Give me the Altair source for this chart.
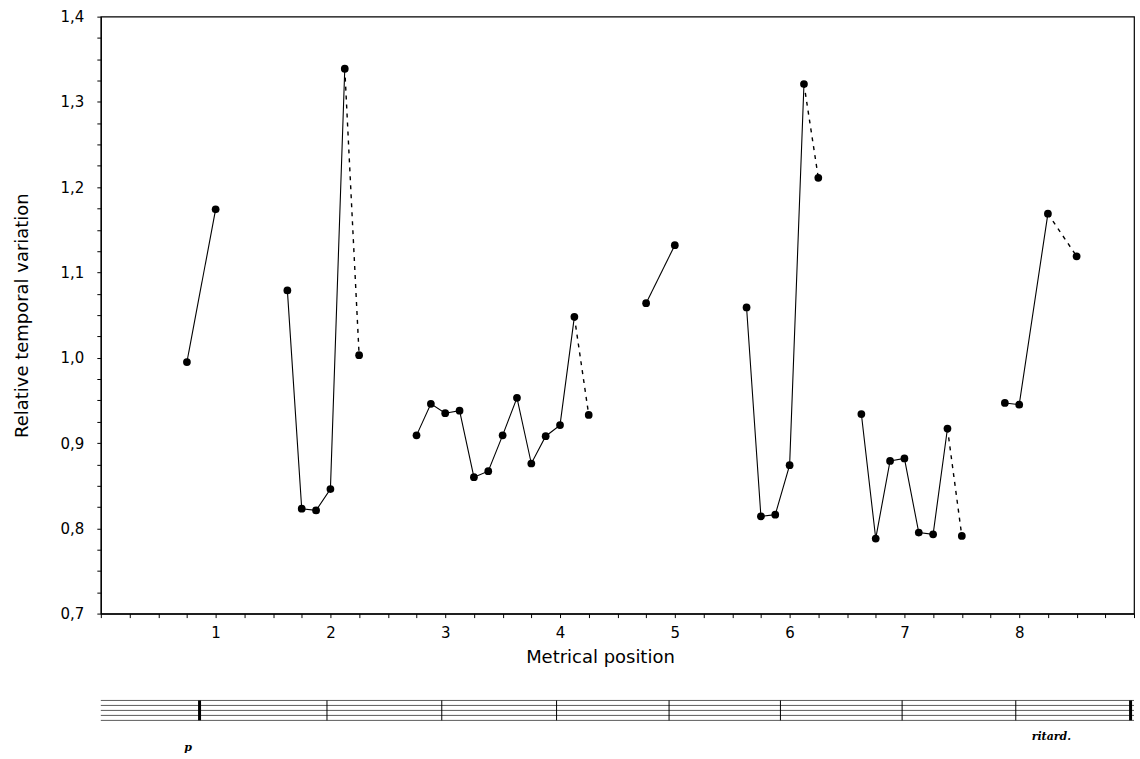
import altair as alt
import pandas as pd

# ---------------- data ----------------
phrase_positions = [
    [0.75, 1.0],
    [1.625, 1.75, 1.875, 2.0, 2.125, 2.25],
    [2.75, 2.875, 3.0, 3.125, 3.25, 3.375, 3.5, 3.625, 3.75, 3.875, 4.0, 4.125, 4.25],
    [4.75, 5.0],
    [5.625, 5.75, 5.875, 6.0, 6.125, 6.25],
    [6.625, 6.75, 6.875, 7.0, 7.125, 7.25, 7.375, 7.5],
    [7.875, 8.0, 8.25, 8.5],
]
phrase_values = [
    [0.995, 1.174],
    [1.079, 0.823, 0.821, 0.846, 1.339, 1.003],
    [0.909, 0.946, 0.935, 0.938, 0.860, 0.867, 0.909, 0.953, 0.876, 0.908, 0.921, 1.048, 0.933],
    [1.064, 1.132],
    [1.059, 0.814, 0.816, 0.874, 1.321, 1.211],
    [0.934, 0.788, 0.879, 0.882, 0.795, 0.793, 0.917, 0.791],
    [0.947, 0.945, 1.169, 1.119],
]
# last step of the phrase drawn dashed
dashed_end = [False, True, True, False, True, True, True]

x_tick_values = [i * 0.25 for i in range(0, 37)]
y_tick_values = [round(0.7 + i * 0.025, 3) for i in range(0, 29)]

# score strip below the chart
staff_lines = [1, 2, 3, 4, 5]
bar_positions = [0.86, 1.97, 2.97, 3.97, 4.95, 5.92, 6.98, 7.97, 8.97]
bar_weights = [3, 1, 1, 1, 1, 1, 1, 1, 3]
score_texts = ["p", "ritard."]
score_text_x = [0.76, 8.28]
score_text_y = [-4.6, -2.3]

# ---------------- tables ----------------
pts, segs = [], []
for i, (xs, ys) in enumerate(zip(phrase_positions, phrase_values)):
    for xv, yv in zip(xs, ys):
        pts.append({"x": xv, "y": yv, "phrase": i})
    solid_n = len(xs) - 1 if dashed_end[i] else len(xs)
    for xv, yv in zip(xs[:solid_n], ys[:solid_n]):
        segs.append({"x": xv, "y": yv, "seg": f"s{i}", "kind": "solid"})
    if dashed_end[i]:
        for xv, yv in zip(xs[-2:], ys[-2:]):
            segs.append({"x": xv, "y": yv, "seg": f"d{i}", "kind": "dashed"})
pts_df = pd.DataFrame(pts)
seg_df = pd.DataFrame(segs)

x_scale = alt.Scale(domain=[0, 9], nice=False, zero=False)
y_scale = alt.Scale(domain=[0.7, 1.4], nice=False, zero=False)

x_axis = alt.Axis(
    title="Metrical position", values=x_tick_values,
    labelExpr="(datum.value >= 1 && datum.value <= 8 && datum.value == round(datum.value)) ? format(datum.value, 'd') : ''",
    labelOverlap=False, labelFlush=False, grid=False, tickSize=4, labelPadding=8,
    labelFontSize=15, titleFontSize=18, titlePadding=8, titleX=500, titleAlign="center",
)
y_axis = alt.Axis(
    title="Relative temporal variation", values=y_tick_values,
    labelExpr="abs(datum.value * 10 - round(datum.value * 10)) < 0.001 ? replace(format(datum.value, '.1f'), '.', ',') : ''",
    labelOverlap=False, grid=False, tickSize=4, labelPadding=13,
    labelFontSize=15, titleFontSize=18, titlePadding=29,
)

xe = alt.X("x:Q", scale=x_scale, axis=x_axis)
ye = alt.Y("y:Q", scale=y_scale, axis=y_axis)

solid = alt.Chart(seg_df).transform_filter("datum.kind == 'solid'").mark_line(
    color="black", strokeWidth=1.1).encode(x=xe, y=ye, detail="seg:N")
dashed = alt.Chart(seg_df).transform_filter("datum.kind == 'dashed'").mark_line(
    color="black", strokeWidth=1.4, strokeDash=[4, 5]).encode(x=xe, y=ye, detail="seg:N")
points = alt.Chart(pts_df).mark_circle(color="black", opacity=1, size=60).encode(x=xe, y=ye)

main = alt.layer(solid, dashed, points).properties(width=1035, height=598)

# ---------------- score strip ----------------
staff_df = pd.DataFrame({"line": staff_lines, "start": [0] * 5, "end": [9] * 5})
bar_df = pd.DataFrame({"pos": bar_positions, "w": bar_weights, "lo": [1] * len(bar_positions), "hi": [5] * len(bar_positions)})
text_df = pd.DataFrame({"t": score_texts, "x": score_text_x, "y": score_text_y})

sx = alt.Scale(domain=[0, 9], nice=False, zero=False)
sy = alt.Scale(domain=[1, 5], nice=False, zero=False)

staff = alt.Chart(staff_df).mark_rule(color="#333333", strokeWidth=0.8).encode(
    x=alt.X("start:Q", scale=sx, axis=None), x2="end:Q",
    y=alt.Y("line:Q", scale=sy, axis=None))
bars = alt.Chart(bar_df).mark_rule(color="black").encode(
    x=alt.X("pos:Q", scale=sx, axis=None),
    y=alt.Y("lo:Q", scale=sy, axis=None), y2="hi:Q",
    strokeWidth=alt.StrokeWidth("w:Q", scale=None, legend=None))
texts = alt.Chart(text_df).mark_text(
    font="DejaVu Serif", fontStyle="italic", fontWeight="bold", fontSize=11, color="black").encode(
    x=alt.X("x:Q", scale=sx, axis=None), y=alt.Y("y:Q", scale=sy, axis=None), text="t:N")

score = alt.layer(staff, bars, texts).properties(
    width=1035, height=20, view=alt.ViewBackground(stroke="transparent"))

chart = alt.vconcat(main, score, spacing=87, bounds="flush").properties(
    padding={"left": 12, "top": 8, "right": 4, "bottom": 5}
).configure(font="DejaVu Sans").configure_view(
    stroke="black", strokeWidth=1.2
).configure_axis(
    domainColor="black", tickColor="black", labelColor="black", titleColor="black",
    titleFontWeight="normal", domainWidth=1.2,
)

chart.save("out.html", embed_options={"renderer": "svg", "actions": False})
